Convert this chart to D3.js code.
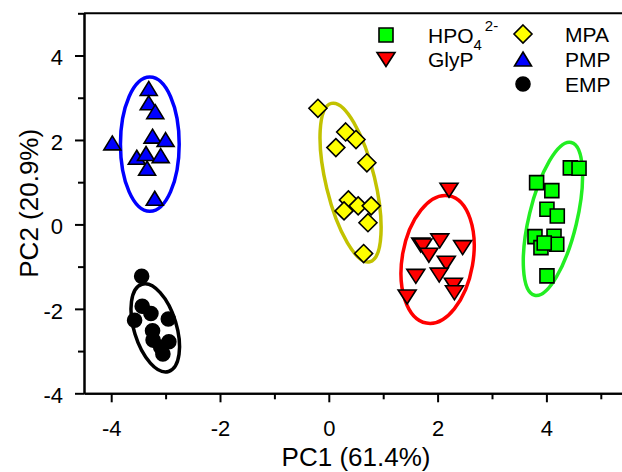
<!DOCTYPE html>
<html>
<head>
<meta charset="utf-8">
<script src="https://cdn.jsdelivr.net/npm/d3@7"></script>
<style>
  body { margin: 0; background: #fff; }
  svg text { font-family: "Liberation Sans", Arial, sans-serif; fill: #000; }
  .axis path, .axis line { stroke: #000; stroke-width: 2; }
  .axis text { font-size: 22px; }
</style>
</head>
<body>
<div id="chart"></div>
<script>
// PCA scores, [PC1, PC2]
const hpo4 = [[4.44, 1.34], [4.60, 1.33], [3.82, 0.99], [4.10, 0.80], [4.01, 0.36], [4.20, 0.20],
  [3.79, -0.29], [4.14, -0.28], [3.90, -0.55], [4.19, -0.47], [3.96, -0.44], [4.01, -1.22]];
const glyp = [[2.21, 0.81], [1.69, -0.49], [2.04, -0.39], [1.73, -0.51], [1.84, -0.73], [2.46, -0.55],
  [2.16, -0.92], [1.60, -1.23], [2.03, -1.20], [2.29, -1.44], [2.31, -1.62], [1.44, -1.72]];
const mpa = [[-0.20, 2.75], [0.31, 2.19], [0.50, 2.01], [0.13, 1.82], [0.70, 1.46], [0.36, 0.58],
  [0.28, 0.32], [0.54, 0.44], [0.78, 0.44], [0.72, 0.04], [0.64, -0.69]];
const pmp = [[-3.31, 3.22], [-3.31, 2.88], [-3.19, 2.67], [-3.98, 1.93], [-3.24, 2.09], [-3.00, 2.01],
  [-3.53, 1.59], [-3.36, 1.68], [-3.09, 1.63], [-3.34, 1.33], [-3.20, 0.62]];
const emp = [[-3.44, -1.23], [-3.43, -1.94], [-3.57, -2.27], [-3.27, -2.11], [-2.95, -2.24], [-3.24, -2.52],
  [-3.23, -2.74], [-2.94, -2.78], [-3.09, -2.91], [-3.05, -3.07]];

// confidence ellipses: [centre PC1, centre PC2, half width (PC1 units), half height (PC2 units), tilt deg]
const ellHpo4 = [4.12, 0.13, 0.44, 1.86, 13.5];
const ellGlyp = [2.00, -0.83, 0.65, 1.53, 10];
const ellMpa = [0.40, 0.99, 0.45, 1.93, -13.6];
const ellPmp = [-3.29, 1.90, 0.54, 1.59, 0];
const ellEmp = [-3.19, -2.45, 0.39, 1.08, -17];

const xMajor = [-4, -2, 0, 2, 4];
const xMinor = [-3, -1, 1, 3, 5];
const yMajor = [-4, -2, 0, 2, 4];
const yMinor = [-3, -1, 1, 3, 5];

const series = [
  {name: 'HPO4', data: hpo4, ell: ellHpo4, shape: 'square', fill: '#00ff00', line: '#22ee22'},
  {name: 'GlyP', data: glyp, ell: ellGlyp, shape: 'down', fill: '#ff0000', line: '#ff0000'},
  {name: 'MPA', data: mpa, ell: ellMpa, shape: 'diamond', fill: '#ffff00', line: '#c2c200'},
  {name: 'PMP', data: pmp, ell: ellPmp, shape: 'up', fill: '#0000ff', line: '#0000ff'},
  {name: 'EMP', data: emp, ell: ellEmp, shape: 'circle', fill: '#000000', line: '#000000'}
];

const width = 622, height = 472;
const margin = {top: 13.3, right: -6, bottom: 78.7, left: 84};

const svg = d3.select('#chart').append('svg')
    .attr('width', width)
    .attr('height', height);

const x = d3.scaleLinear().domain([-4.5, 5.5]).range([margin.left, width - margin.right]);
const y = d3.scaleLinear().domain([-4, 5]).range([height - margin.bottom, margin.top]);

// marker outlines, centred on 0,0
const shapes = {
  square: 'M-7,-7H7V7H-7Z',
  diamond: 'M0,-9L9,0L0,9L-9,0Z',
  up: 'M0,-7L8.5,7L-8.5,7Z',
  down: 'M0,7L-9,-7L9,-7Z',
  circle: 'M7,0A7,7 0 1,1 -7,0A7,7 0 1,1 7,0Z'
};

// frame: top line
svg.append('line')
    .attr('x1', x(-4.5)).attr('x2', x(5.5))
    .attr('y1', y(5)).attr('y2', y(5))
    .attr('stroke', '#000').attr('stroke-width', 2);

// axes
const fmt = d => String(d);
svg.append('g')
    .attr('class', 'axis')
    .attr('transform', `translate(0,${y(-4)})`)
    .call(d3.axisBottom(x).tickValues(xMinor).tickSize(6).tickFormat('').tickSizeOuter(0));
svg.append('g')
    .attr('class', 'axis')
    .attr('transform', `translate(0,${y(-4)})`)
    .call(d3.axisBottom(x).tickValues(xMajor).tickSize(9).tickPadding(18).tickFormat(fmt).tickSizeOuter(0));

svg.append('g')
    .attr('class', 'axis')
    .attr('transform', `translate(${x(-4.5)},0)`)
    .call(d3.axisLeft(y).tickValues(yMinor).tickSize(6).tickFormat('').tickSizeOuter(0));
svg.append('g')
    .attr('class', 'axis')
    .attr('transform', `translate(${x(-4.5)},0)`)
    .call(d3.axisLeft(y).tickValues(yMajor).tickSize(9).tickPadding(12).tickFormat(fmt).tickSizeOuter(0))
    .selectAll('text').attr('dy', '0.42em');

// axis titles
svg.append('text')
    .attr('x', (x(-4.5) + x(5.5)) / 2)
    .attr('y', 466)
    .attr('text-anchor', 'middle')
    .style('font-size', '26px')
    .text('PC1 (61.4%)');

svg.append('text')
    .attr('transform', `translate(38,${(y(-4) + y(5)) / 2}) rotate(-90)`)
    .attr('text-anchor', 'middle')
    .style('font-size', '26px')
    .text('PC2 (20.9%)');

// ellipses first, markers on top
const kx = x(1) - x(0), ky = y(0) - y(1);
svg.append('g').selectAll('ellipse')
    .data(series)
  .join('ellipse')
    .attr('transform', d => `translate(${x(d.ell[0])},${y(d.ell[1])}) rotate(${d.ell[4]})`)
    .attr('rx', d => d.ell[2] * kx)
    .attr('ry', d => d.ell[3] * ky)
    .attr('fill', 'none')
    .attr('stroke', d => d.line)
    .attr('stroke-width', 3.5);

series.forEach(s => {
  svg.append('g').selectAll('path')
      .data(s.data)
    .join('path')
      .attr('transform', d => `translate(${x(d[0])},${y(d[1])})`)
      .attr('d', shapes[s.shape])
      .attr('fill', s.fill)
      .attr('stroke', '#000')
      .attr('stroke-width', 1.6)
      .attr('stroke-linejoin', 'miter');
});

// legend, two columns
const legendPos = [
  {s: series[0], x: 386, y: 35}, {s: series[1], x: 386, y: 59.5},
  {s: series[2], x: 523, y: 34}, {s: series[3], x: 523, y: 59}, {s: series[4], x: 523, y: 84}
];
const legend = svg.append('g');
legend.selectAll('path')
    .data(legendPos)
  .join('path')
    .attr('transform', d => `translate(${d.x},${d.y})`)
    .attr('d', d => shapes[d.s.shape])
    .attr('fill', d => d.s.fill)
    .attr('stroke', '#000')
    .attr('stroke-width', 1.6);

const lt = legend.selectAll('text')
    .data(legendPos)
  .join('text')
    .attr('x', d => d.x + 42)
    .attr('y', d => d.y + 7.5)
    .style('font-size', '21px');
lt.each(function(d) {
  const t = d3.select(this);
  if (d.s.name === 'HPO4') {
    t.append('tspan').text('HPO');
    t.append('tspan').attr('dy', 7.5).style('font-size', '15px').text('4');
    t.append('tspan').attr('dy', -19.5).attr('dx', 3).style('font-size', '15px').text('2-');
  } else {
    t.text(d.s.name);
  }
});
</script>
</body>
</html>
